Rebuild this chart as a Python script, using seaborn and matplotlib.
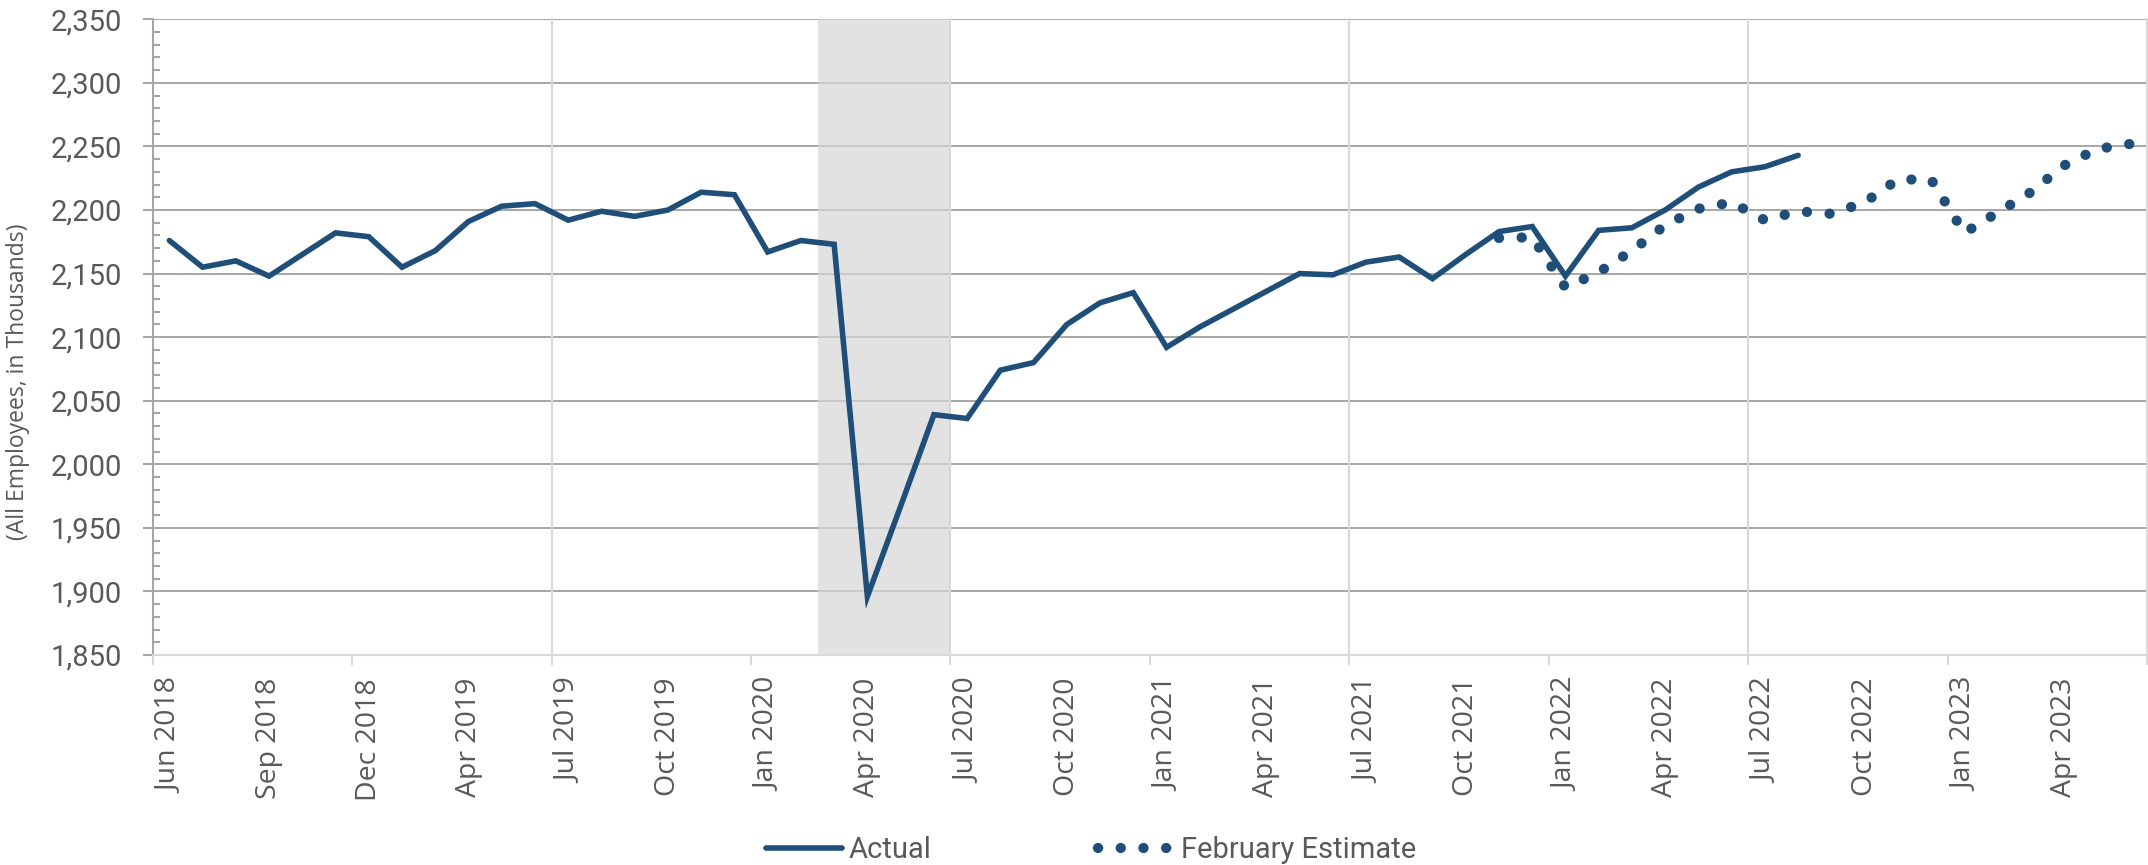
import matplotlib
matplotlib.use("Agg")
import matplotlib.pyplot as plt
import numpy as np
import pandas as pd
import seaborn as sns
from matplotlib.ticker import FuncFormatter, MultipleLocator, FixedLocator

# Monthly categories (the source sheet has no Jan 2019 row)
months = pd.date_range("2018-06-01", "2023-06-01", freq="MS")
months = months[months != pd.Timestamp("2019-01-01")]
month_labels = [m.strftime("%b %Y") for m in months]

actual = [2176, 2155, 2160, 2148, 2165, 2182, 2179, 2155, 2168, 2191,
          2203, 2205, 2192, 2199, 2195, 2200, 2214, 2212, 2167, 2176,
          2173, 1896, 1967, 2039, 2036, 2074, 2080, 2110, 2127, 2135,
          2092, 2108, 2122, 2136, 2150, 2149, 2159, 2163, 2146, 2165,
          2183, 2187, 2148, 2184, 2186, 2200, 2218, 2230, 2234, 2243]
estimate_start = "Nov 2021"
estimate = [2178, 2178.5, 2139, 2151, 2168, 2188, 2201, 2206, 2192, 2199,
            2197, 2206, 2224, 2224, 2182, 2198, 2214, 2235, 2248, 2252]
shade_months = ["Mar 2020", "Jun 2020"]
tick_labels = ["Jun 2018", "Sep 2018", "Dec 2018", "Apr 2019", "Jul 2019",
               "Oct 2019", "Jan 2020", "Apr 2020", "Jul 2020", "Oct 2020",
               "Jan 2021", "Apr 2021", "Jul 2021", "Oct 2021", "Jan 2022",
               "Apr 2022", "Jul 2022", "Oct 2022", "Jan 2023", "Apr 2023"]

NAVY = "#1F4E79"
TEXT = "#595959"
GRID = "#A6A6A6"
LIGHT = "#D9D9D9"

sns.set_theme(style="white")
plt.rcParams["font.family"] = ["Roboto", "DejaVu Sans"]

start = month_labels.index(estimate_start)
df_actual = pd.DataFrame({"pos": np.arange(len(actual)), "value": actual})
df_est = pd.DataFrame({"pos": np.arange(start, start + len(estimate)), "value": estimate})

fig = plt.figure(figsize=(21.48, 8.65), dpi=100)
ax = fig.add_axes([0.0711, 0.2428, 0.9285, 0.7349])

n = len(month_labels)
ax.set_xlim(-0.5, n - 0.5)
ax.set_ylim(1850, 2350)

# recession shading
ax.axvspan(month_labels.index(shade_months[0]) - 0.5,
           month_labels.index(shade_months[1]) + 0.5,
           color="#D6D6D6", alpha=0.7, lw=0, zorder=1.5)

# vertical gridlines every 12 categories
for b in np.arange(11.5, n, 12):
    ax.axvline(b, color=LIGHT, lw=1.5, zorder=0.6, clip_on=False)

sns.lineplot(data=df_actual, x="pos", y="value", ax=ax, color=NAVY, lw=4.0,
             solid_capstyle="round", solid_joinstyle="miter", label="Actual",
             zorder=3)
sns.lineplot(data=df_est, x="pos", y="value", ax=ax, color=NAVY, lw=7.4,
             linestyle=(0, (0.01, 2.2)), dash_capstyle="round",
             label="February Estimate", zorder=3)

# y axis
ax.yaxis.set_major_locator(MultipleLocator(50))
ax.yaxis.set_minor_locator(MultipleLocator(10))
ax.yaxis.set_major_formatter(FuncFormatter(lambda v, p: f"{int(v):,}"))
ax.yaxis.grid(True, which="major", color=GRID, lw=1.4)
ax.set_axisbelow(True)
ax.tick_params(axis="y", which="major", direction="out", length=7.2, width=1.5,
               color=GRID, labelsize=21, labelcolor=TEXT, pad=15, left=True)
ax.tick_params(axis="y", which="minor", direction="in", length=5, width=1.5,
               color=GRID, left=True)

# x axis
ax.xaxis.set_major_locator(FixedLocator([month_labels.index(t) for t in tick_labels]))
ax.set_xticklabels(tick_labels, rotation=90, fontfamily="Open Sans")
ax.xaxis.set_minor_locator(FixedLocator(np.arange(-0.5, n, 6)))
ax.tick_params(axis="x", which="major", length=0, labelsize=20.5,
               labelcolor=TEXT, pad=16.5, bottom=True)
ax.tick_params(axis="x", which="minor", direction="out", length=7.2, width=1.5,
               color=LIGHT, bottom=True)
ax.set_xlabel("")

ax.set_ylabel("(All Employees, in Thousands)", fontsize=16.5, color=TEXT,
              fontfamily="Open Sans")
ax.yaxis.set_label_coords(-0.0615, 0.43)

for s in ["top", "right"]:
    ax.spines[s].set_visible(False)
ax.spines["left"].set_color(GRID)
ax.spines["left"].set_linewidth(1.5)
ax.spines["bottom"].set_color(LIGHT)
ax.spines["bottom"].set_linewidth(1.5)

handles, labels = ax.get_legend_handles_labels()
ax.get_legend().remove()
fig.legend(handles, labels, loc="center", bbox_to_anchor=(0.508, 1 - 850 / 865),
           ncol=2, frameon=False, fontsize=21, labelcolor=TEXT,
           handlelength=2.6, handletextpad=0.25, columnspacing=5.7)

fig.savefig("out.png", dpi=100)
